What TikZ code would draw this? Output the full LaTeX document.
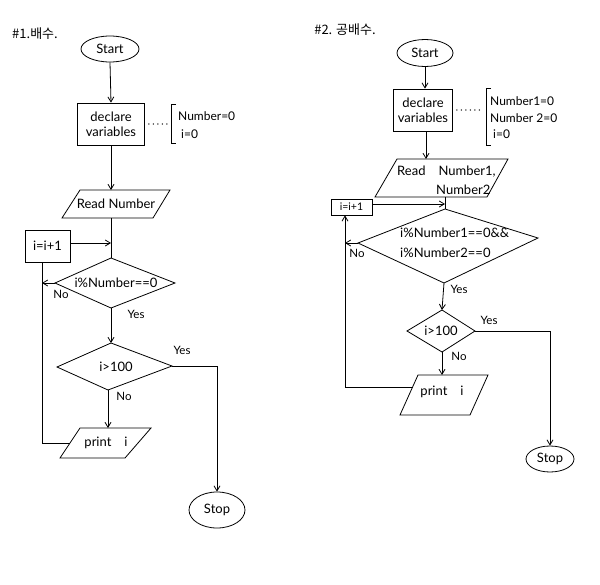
\documentclass[tikz,border=0pt]{standalone}
\usepackage{fontspec}
\setmainfont{Lato}
\newfontfamily\kr{Noto Sans CJK KR}
\usetikzlibrary{shapes.geometric,arrows.meta,calc}
\begin{document}
\begin{tikzpicture}[x=1pt,y=-1pt,
  ln/.style={line width=0.8pt},
  arr/.style={ln,-{Straight Barb[length=5pt,width=6pt]}},
  dots/.style={line width=1.4pt,dash pattern=on 0pt off 4.5pt,line cap=round},
  term/.style={ln,draw,ellipse,inner sep=0pt},
  proc/.style={ln,draw,rectangle,inner sep=0pt,align=center},
  txt/.style={inner sep=0pt,font=\fontsize{13}{15}\selectfont},
  var/.style={inner sep=0pt,font=\fontsize{12}{14}\selectfont},
  lbl/.style={inner sep=0pt,font=\fontsize{11.5}{13}\selectfont},
  ttl/.style={inner sep=0pt,font=\kr\fontsize{13}{15}\selectfont}]
\useasboundingbox (0,0) rectangle (600,584);
\fill[white] (0,0) rectangle (600,584);

% ================= LEFT CHART =================
\node[ttl] (title1) at (35,34) {\#1.배수.};
\node[term,minimum width=58pt,minimum height=26pt,txt] (start1) at (110,49) {Start};
\node[proc,minimum width=67pt,minimum height=42pt,txt] (decl1) at (111,124) {declare\\variables};
\draw[dots] ([xshift=4pt]decl1.east) -- ++(19,0) coordinate (dots1);
\draw[ln] (176,104) -- (171,104) -- (171,143) -- (176,143);
\node[var,anchor=west] (v1a) at (178,116) {Number=0};
\node[var,anchor=west] (v1b) at (181,134) {i=0};

% Read Number parallelogram
\coordinate (r1tl) at (80,190); \coordinate (r1tr) at (170,190);
\coordinate (r1br) at (153,218); \coordinate (r1bl) at (62,218);
\draw[ln] (r1tl) -- (r1tr) -- (r1br) -- (r1bl) -- cycle;
\node[txt] (read1) at (116,204) {Read Number};
\coordinate (r1t) at (111,190); \coordinate (r1b) at (111,218);

% increment box
\node[proc,minimum width=45pt,minimum height=32pt,txt] (inc1) at (47.5,246) {i=i+1};

% diamond 1
\coordinate (d1t) at (111,258); \coordinate (d1l) at (55,283);
\coordinate (d1r) at (175,283); \coordinate (d1b) at (111,308);
\draw[ln] (d1t) -- (d1r) -- (d1b) -- (d1l) -- cycle;
\node[txt] (cond1) at (116,283) {i\%Number==0};

% diamond 2
\coordinate (d2t) at (111,343); \coordinate (d2l) at (57,367);
\coordinate (d2r) at (172,366); \coordinate (d2b) at (108,390);
\draw[ln] (d2t) -- (d2r) -- (d2b) -- (d2l) -- cycle;
\node[txt] (cond2) at (116,367) {i>100};

% print i
\coordinate (p1tl) at (80,428); \coordinate (p1tr) at (151,428);
\coordinate (p1br) at (125,458); \coordinate (p1bl) at (60,458);
\draw[ln] (p1tl) -- (p1tr) -- (p1br) -- (p1bl) -- cycle;
\node[txt] (print1) at (106,443) {print\quad i};
\coordinate (p1t) at (108,428); \coordinate (p1l) at (70,443);

\node[term,minimum width=56pt,minimum height=36pt,txt] (stop1) at (217,510) {Stop};

% connectors
\draw[arr] (start1.south) -- (decl1.north);
\draw[arr] (decl1.south) -- (r1t);
\coordinate (j1) at (111,243);
\draw[ln] (r1b) -- (d1t);
\draw[arr] (inc1.east |- j1) -- (j1);
\coordinate (n1) at (42,283);
\draw[arr] (d1l) -- (n1);
\coordinate (loop1) at (42,443);
\draw[ln] (p1l) -- (loop1) -- (loop1 |- inc1.south);
\draw[arr] (d1b) -- (d2t);
\draw[arr] (d2r) -| (stop1.north);
\draw[arr] (d2b) -- (p1t);
\node[lbl] (no1) at (61,294) {No};
\node[lbl] (yes1) at (136,314) {Yes};
\node[lbl] (yes2) at (182,350) {Yes};
\node[lbl] (no2) at (124,396) {No};

% ================= RIGHT CHART =================
\node[ttl] (title2) at (345,30) {\#2. 공배수.};
\node[term,minimum width=56pt,minimum height=27pt,txt] (start2) at (425,53) {Start};
\node[proc,minimum width=59pt,minimum height=42pt,txt] (decl2) at (423,110) {declare\\variables};
\draw[dots] ([xshift=4pt]decl2.east) -- ++(24,0) coordinate (dots2);
\draw[ln] (491,88) -- (486,88) -- (486,145) -- (491,145);
\node[var,anchor=west] (v2a) at (490,101) {Number1=0};
\node[var,anchor=west] (v2b) at (490,118) {Number 2=0};
\node[var,anchor=west] (v2c) at (493,134) {i=0};

% Read parallelogram
\coordinate (r2tl) at (397,159); \coordinate (r2tr) at (508,159);
\coordinate (r2br) at (487,197); \coordinate (r2bl) at (375,197);
\draw[ln] (r2tl) -- (r2tr) -- (r2br) -- (r2bl) -- cycle;
\node[txt,anchor=west] (read2a) at (397,172) {Read\quad Number1,};
\node[txt,anchor=west] (read2b) at (436,190) {Number2};
\coordinate (r2t) at (426,159); \coordinate (r2b) at (445,197);

% increment box
\node[proc,minimum width=41pt,minimum height=16pt,font=\fontsize{10.5}{12}\selectfont] (inc2) at (351.5,207) {i=i+1};

% diamond 3
\coordinate (d3t) at (445,209); \coordinate (d3l) at (358,243);
\coordinate (d3r) at (538,238); \coordinate (d3b) at (444,283);
\draw[ln] (d3t) -- (d3r) -- (d3b) -- (d3l) -- cycle;
\node[txt,anchor=west,align=left,font=\fontsize{13}{20}\selectfont] (cond3) at (400,243) {i\%Number1==0\&\&\\i\%Number2==0};

% diamond 4
\coordinate (d4t) at (442,310); \coordinate (d4l) at (407,331);
\coordinate (d4r) at (475,331); \coordinate (d4b) at (442,352);
\draw[ln] (d4t) -- (d4r) -- (d4b) -- (d4l) -- cycle;
\node[txt] (cond4) at (441,331) {i>100};

% print i
\coordinate (p2tl) at (418,375); \coordinate (p2tr) at (488,375);
\coordinate (p2br) at (470,415); \coordinate (p2bl) at (400,415);
\draw[ln] (p2tl) -- (p2tr) -- (p2br) -- (p2bl) -- cycle;
\node[txt] (print2) at (442,392) {print\quad i};
\coordinate (p2t) at (442,375); \coordinate (p2l) at (413,387);

\node[term,minimum width=48pt,minimum height=26pt,txt] (stop2) at (550,459) {Stop};

% connectors
\draw[arr] (start2.south) -- (start2.south |- decl2.north);
\draw[arr] (decl2.south -| r2t) -- (r2t);
\coordinate (j2) at (445,204);
\draw[ln] (r2b) -- (d3t);
\draw[arr] (inc2.east |- j2) -- (j2);
\coordinate (n2) at (345,243);
\draw[arr] (d3l) -- (n2);
\coordinate (loop2) at (345,387);
\draw[arr] (p2l) -- (loop2) -- (loop2 |- inc2.south);
\draw[arr] (d3b) -- (d4t);
\draw[arr] (d4r) -| (stop2.north);
\draw[arr] (d4b) -- (p2t);
\node[lbl] (no3) at (357,253) {No};
\node[lbl] (yes3) at (459,289) {Yes};
\node[lbl] (yes4) at (489,320) {Yes};
\node[lbl] (no4) at (459,356) {No};
\end{tikzpicture}
\end{document}
